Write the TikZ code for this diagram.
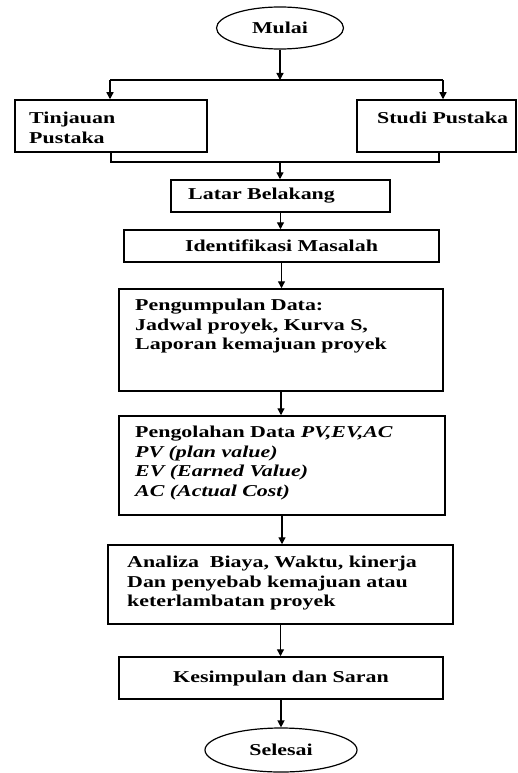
\documentclass[tikz,border=0pt]{standalone}
\usepackage{fontspec}
\setmainfont{Liberation Serif}[FakeStretch=1.32]
\usetikzlibrary{shapes.geometric,arrows.meta}
\begin{document}
\begin{tikzpicture}[x=1pt,y=-1pt,
  every node/.style={font=\fontsize{16.6}{19.5}\selectfont\bfseries},
  box/.style={draw,line width=1.5pt,rectangle,inner sep=0pt},
  oval/.style={draw,line width=1.2pt,ellipse,inner sep=0pt},
  txt/.style={inner sep=0pt,anchor=north west,align=left},
  conn/.style={line width=1.3pt},
  arr/.style={line width=1.3pt,-{Triangle[length=7pt,width=7pt]}}]
\useasboundingbox (0,0) rectangle (518,773);
% shapes
\node[oval,minimum width=127pt,minimum height=42pt] (mulai) at (280,28) {Mulai};
\node[box,minimum width=192pt,minimum height=52pt] (tinjauan) at (111,126) {};
\node[box,minimum width=159pt,minimum height=52pt] (studi) at (436.5,126) {};
\node[box,minimum width=219pt,minimum height=32pt] (latar) at (280.5,196) {};
\node[box,minimum width=315pt,minimum height=32pt] (ident) at (281.5,246) {Identifikasi Masalah};
\node[box,minimum width=324pt,minimum height=102pt] (kumpul) at (281,340) {};
\node[box,minimum width=326pt,minimum height=99pt] (olah) at (282,465.5) {};
\node[box,minimum width=345pt,minimum height=79pt] (analiza) at (280.5,584.5) {};
\node[box,minimum width=324pt,minimum height=42pt] (simpul) at (281,678) {Kesimpulan dan Saran};
\node[oval,minimum width=152pt,minimum height=44pt] (selesai) at (281,750) {Selesai};
% texts
\node[txt] (ttinjauan) at (29,112) {Tinjauan\\Pustaka};
\node[txt] (tstudi) at (377,112) {Studi Pustaka};
\node[txt,anchor=west] (tlatar) at (188,196) {Latar Belakang};
\node[txt] (tkumpul) at (135,299) {Pengumpulan Data:\\Jadwal proyek, Kurva S,\\Laporan kemajuan proyek};
\node[txt] (tolah) at (135,426) {Pengolahan Data \textit{PV,EV,AC}\\\textit{PV (plan value)}\\\textit{EV (Earned Value)}\\\textit{AC (Actual Cost)}};
\node[txt] (tanaliza) at (127,556) {Analiza\ \ Biaya, Waktu, kinerja\\Dan penyebab kemajuan atau\\keterlambatan proyek};
% junction points
\coordinate (sm) at (280,80);
\coordinate (sl) at (110,80);
\coordinate (sr) at (443,80);
\coordinate (jm) at (280,162);
\coordinate (jl) at (111,162);
\coordinate (jr) at (439,162);
% connectors
\draw[arr] (mulai.south) -- (sm);
\draw[conn] (sl) -- (sr);
\draw[arr] (sl) -- (sl |- tinjauan.north);
\draw[arr] (sr) -- (sr |- studi.north);
\draw[conn] (jl |- tinjauan.south) -- (jl) -- (jr) -- (jr |- studi.south);
\draw[arr] (jm) -- (jm |- latar.north);
\draw[arr] (latar.south) -- (latar.south |- ident.north);
\draw[arr] (ident.south) -- (ident.south |- kumpul.north);
\draw[arr] (kumpul.south) -- (kumpul.south |- olah.north);
\draw[arr] (olah.south) -- (olah.south |- analiza.north);
\draw[arr] (analiza.south) -- (analiza.south |- simpul.north);
\draw[arr] (simpul.south) -- (simpul.south |- selesai.north);
\end{tikzpicture}
\end{document}
